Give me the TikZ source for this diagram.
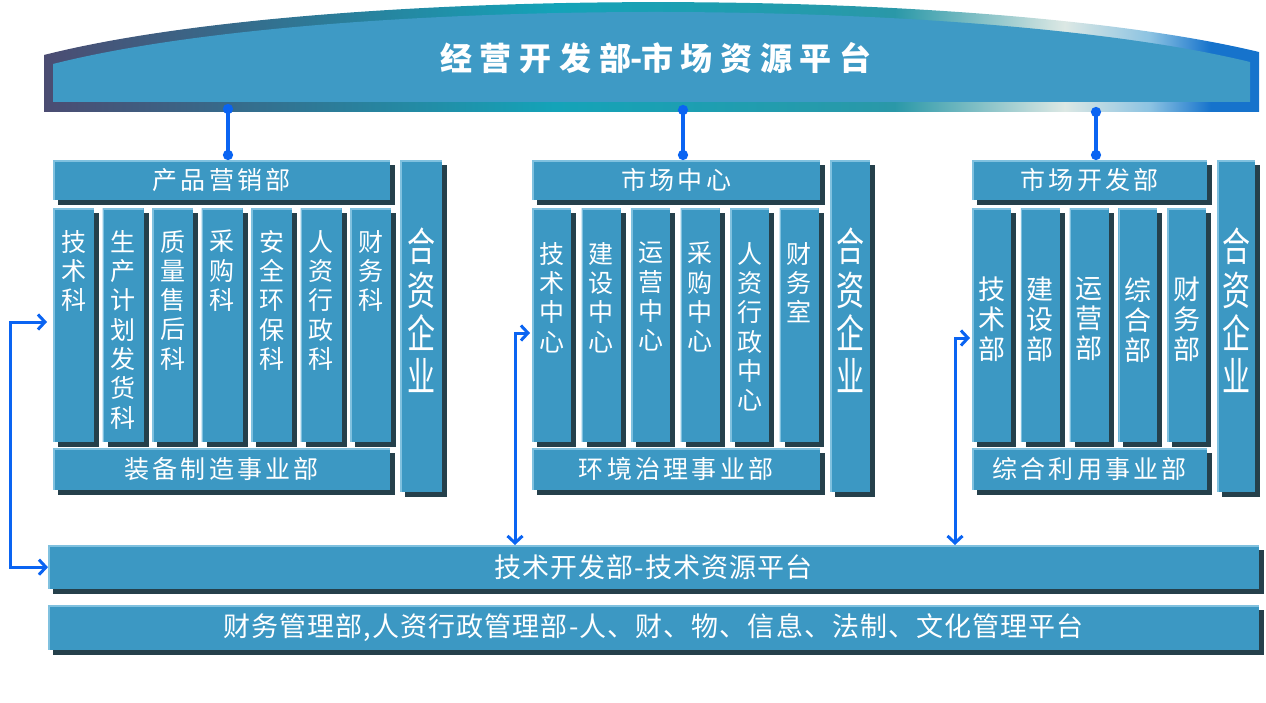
\documentclass[tikz,border=0pt]{standalone}
\usepackage{fontspec}
\setmainfont{Noto Sans CJK SC}
\newfontfamily\cjk{Noto Sans CJK SC}
\newfontfamily\cjkwide[LetterSpace=13]{Noto Sans CJK SC}
\newfontfamily\cjkbar[LetterSpace=4]{Noto Sans CJK SC}
\newfontfamily\cjkhead[LetterSpace=24]{Noto Sans CJK SC}
\newfontfamily\cjktall[FakeStretch=0.7]{Noto Sans CJK SC}
\usetikzlibrary{positioning,shadows,arrows.meta}
\definecolor{boxblue}{HTML}{3C98C3}
\definecolor{platblue}{HTML}{3E9AC5}
\definecolor{boxshade}{HTML}{25404B}
\definecolor{boxlit}{HTML}{80C1DF}
\definecolor{linkblue}{HTML}{0A64F2}
\definecolor{rimA}{HTML}{4B4C72}
\definecolor{rimB}{HTML}{33708F}
\definecolor{rimC}{HTML}{14A3B8}
\definecolor{rimD}{HTML}{2A98A8}
\definecolor{rimE}{HTML}{DCE8E4}
\definecolor{rimF}{HTML}{8CC3E2}
\definecolor{rimG}{HTML}{1673CC}
\pgfdeclarehorizontalshading{platrim}{100bp}{color(0bp)=(rimA); color(25bp)=(rimA);
  color(34bp)=(rimB); color(46bp)=(rimC); color(60bp)=(rimD); color(67bp)=(rimE);
  color(70.5bp)=(rimF); color(73bp)=(rimG); color(100bp)=(rimG)}

\begin{document}
\begin{tikzpicture}[x=1pt, y=-1pt,
    box/.style={rectangle, inner sep=0pt, anchor=north west, fill=boxblue, text=white,
      drop shadow={shadow xshift=5pt, shadow yshift=-5pt, opacity=1, fill=boxshade},
      path picture={\draw[boxlit, line width=3pt]
        (path picture bounding box.south west) -- (path picture bounding box.north west)
        -- (path picture bounding box.north east);}},
    unit/.style={box, minimum height=40pt, font=\cjkwide\fontsize{25}{25}\selectfont},
    bar/.style={box, minimum width=1211pt, font=\cjkbar\fontsize{27}{27}\selectfont},
    col/.style={box, minimum height=234pt},
    jv/.style={box, minimum height=332pt},
    vlabel/.style={inner sep=0pt, text=white, align=center, font=\cjk\fontsize{25}{29.3}\selectfont},
    vlabelC/.style={vlabel, font=\cjk\fontsize{27}{30}\selectfont},
    jvlabel/.style={vlabel, font=\cjktall\fontsize{40}{43.3}\selectfont},
    tie/.style={draw=linkblue, line width=3.5pt, {Circle[length=10pt]}-{Circle[length=10pt]}},
    feed/.style={draw=linkblue, line width=3pt,
      {Straight Barb[length=7pt,width=15pt]}-{Straight Barb[length=7pt,width=15pt]}}]
  \useasboundingbox (0,0) rectangle (1266,703);

  % market platform
  \shade[shading=platrim] (44,112) -- (44,55) .. controls (320,-15) and (980,-15) .. (1259,52)
    -- (1259,112) -- cycle;
  \fill[platblue] (53,102) -- (53,64) .. controls (325,-5) and (975,-5) .. (1250,62)
    -- (1250,102) -- cycle;
  \node[font=\cjkhead\bfseries\fontsize{32}{32}\selectfont, text=white] (plat) at (656,58)
    {经营开发部\kern-1pt-\kern-1pt市场资源平台};

  % 装备制造事业部
  \node[col, minimum width=41pt] (colA1) at (53,208) {};
  \node[col, minimum width=41pt] (colA2) at (102.5,208) {};
  \node[col, minimum width=41pt] (colA3) at (152,208) {};
  \node[col, minimum width=41pt] (colA4) at (201.5,208) {};
  \node[col, minimum width=41pt] (colA5) at (251,208) {};
  \node[col, minimum width=41pt] (colA6) at (300.5,208) {};
  \node[col, minimum width=41pt] (colA7) at (350,208) {};
  \node[vlabel, below=22pt of colA1.north] (tA1) {技\\术\\科};
  \node[vlabel, below=22pt of colA2.north] (tA2) {生\\产\\计\\划\\发\\货\\科};
  \node[vlabel, below=22pt of colA3.north] (tA3) {质\\量\\售\\后\\科};
  \node[vlabel, below=22pt of colA4.north] (tA4) {采\\购\\科};
  \node[vlabel, below=22pt of colA5.north] (tA5) {安\\全\\环\\保\\科};
  \node[vlabel, below=22pt of colA6.north] (tA6) {人\\资\\行\\政\\科};
  \node[vlabel, below=22pt of colA7.north] (tA7) {财\\务\\科};
  \node[unit, minimum width=337pt] (hdrA) at (53,160) {产品营销部};
  \node[unit, minimum width=337pt, minimum height=42pt] (divA) at (53,448) {装备制造事业部};
  \node[jv, minimum width=42pt] (jvA) at (400,160) {};
  \node[jvlabel, below=68pt of jvA.north] (tjA) {合\\资\\企\\业};

  % 环境治理事业部
  \node[col, minimum width=39pt] (colB1) at (532,208) {};
  \node[col, minimum width=39pt] (colB2) at (581.5,208) {};
  \node[col, minimum width=39pt] (colB3) at (631,208) {};
  \node[col, minimum width=39pt] (colB4) at (680.5,208) {};
  \node[col, minimum width=39pt] (colB5) at (730,208) {};
  \node[col, minimum width=39pt] (colB6) at (779.5,208) {};
  \node[vlabel, below=34pt of colB1.north] (tB1) {技\\术\\中\\心};
  \node[vlabel, below=34pt of colB2.north] (tB2) {建\\设\\中\\心};
  \node[vlabel, below=34pt of colB3.north] (tB3) {运\\营\\中\\心};
  \node[vlabel, below=34pt of colB4.north] (tB4) {采\\购\\中\\心};
  \node[vlabel, below=34pt of colB5.north] (tB5) {人\\资\\行\\政\\中\\心};
  \node[vlabel, below=34pt of colB6.north] (tB6) {财\\务\\室};
  \node[unit, minimum width=288pt] (hdrB) at (532,160) {市场中心};
  \node[unit, minimum width=288pt, minimum height=42pt] (divB) at (532,448) {环境治理事业部};
  \node[jv, minimum width=40pt] (jvB) at (830,160) {};
  \node[jvlabel, below=68pt of jvB.north] (tjB) {合\\资\\企\\业};

  % 综合利用事业部
  \node[col, minimum width=39pt] (colC1) at (972,208) {};
  \node[col, minimum width=39pt] (colC2) at (1020.7,208) {};
  \node[col, minimum width=39pt] (colC3) at (1069.5,208) {};
  \node[col, minimum width=39pt] (colC4) at (1118.2,208) {};
  \node[col, minimum width=39pt] (colC5) at (1167,208) {};
  \node[vlabelC, below=69pt of colC1.north] (tC1) {技\\术\\部};
  \node[vlabelC, below=69pt of colC2.north] (tC2) {建\\设\\部};
  \node[vlabelC, below=69pt of colC3.north] (tC3) {运\\营\\部};
  \node[vlabelC, below=69pt of colC4.north] (tC4) {综\\合\\部};
  \node[vlabelC, below=69pt of colC5.north] (tC5) {财\\务\\部};
  \node[unit, minimum width=235pt] (hdrC) at (972,160) {市场开发部};
  \node[unit, minimum width=235pt, minimum height=42pt] (divC) at (972,448) {综合利用事业部};
  \node[jv, minimum width=38pt] (jvC) at (1217,160) {};
  \node[jvlabel, below=68pt of jvC.north] (tjC) {合\\资\\企\\业};

  % lower platforms
  \node[bar, minimum height=44pt] (bar1) at (48,545) {技术开发部-技术资源平台};
  \node[bar, minimum height=45pt] (bar2) at (48,605)
    {财务管理部,人资行政管理部-人、财、物、信息、法制、文化管理平台};

  % links
  \coordinate (pA) at (228,104);
  \coordinate (pB) at (683,105);
  \coordinate (pC) at (1096,107);
  \draw[tie] (pA) -- (pA |- hdrA.north);
  \draw[tie] (pB) -- (pB |- hdrB.north);
  \draw[tie] (pC) -- (pC |- hdrC.north);
  \coordinate (inA) at (47,322);
  \coordinate (jA) at (10,322);
  \coordinate (inB) at (530,333);
  \coordinate (jB) at (515,333);
  \coordinate (inC) at (970,338);
  \coordinate (jC) at (955,338);
  \draw[feed] (inA) -- (jA) |- (bar1.west);
  \draw[feed] (inB) -- (jB) -- (jB |- bar1.north);
  \draw[feed] (inC) -- (jC) -- (jC |- bar1.north);
\end{tikzpicture}
\end{document}
